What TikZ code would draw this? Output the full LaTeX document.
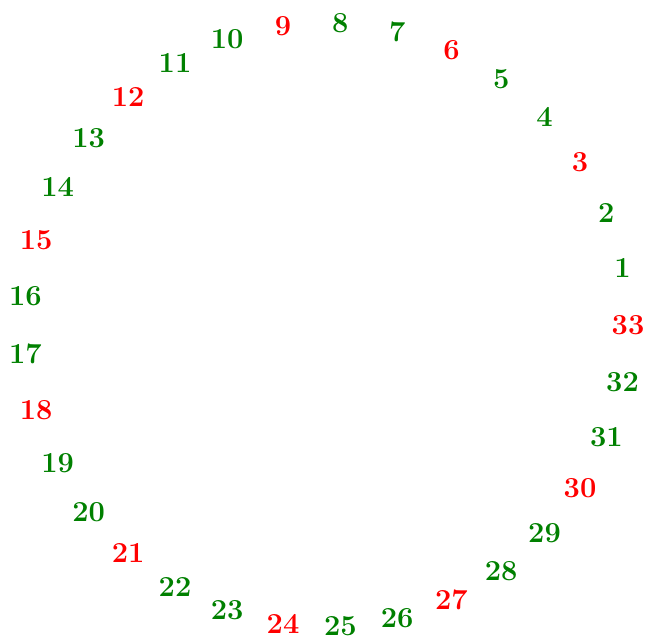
\documentclass[tikz,border=0pt]{standalone}
\begin{document}
\begin{tikzpicture}[x=1pt,y=1pt,
  num/.style={font=\fontsize{29}{32}\selectfont\bfseries, inner sep=0pt},
  numred/.style={num, text=red},
  numgreen/.style={num, text=green!50!black}]
\useasboundingbox (0,0) rectangle (647,640);
\coordinate (c) at (326,315);
\foreach \i in {1,...,33}{
  \pgfmathtruncatemacro\m{mod(\i,3)}
  \ifnum\m=0
    \path (c) ++(\i*360/33:302) node[numred] (n\i) {\i};
  \else
    \path (c) ++(\i*360/33:302) node[numgreen] (n\i) {\i};
  \fi
}
\end{tikzpicture}
\end{document}
